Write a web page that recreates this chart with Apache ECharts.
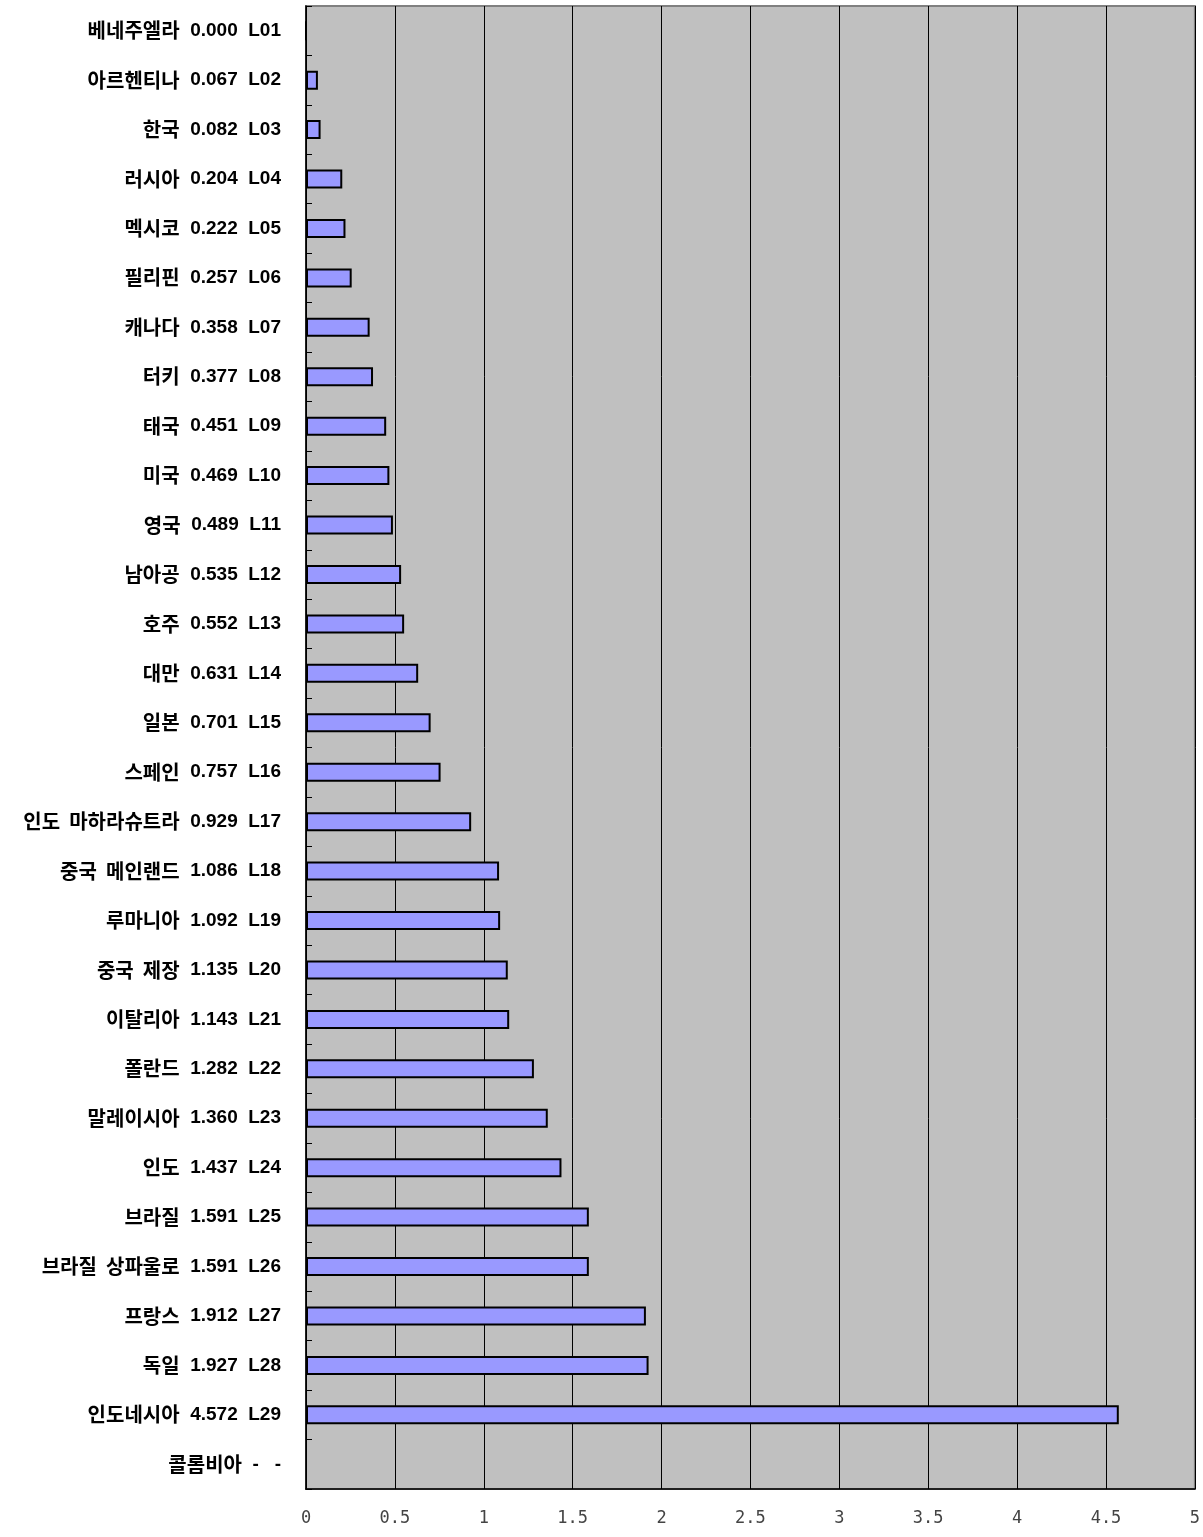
<!DOCTYPE html>
<html>
<head>
<meta charset="utf-8">
<script src="https://cdn.jsdelivr.net/npm/echarts@6/dist/echarts.min.js"></script>
<style>html,body{margin:0;padding:0;background:#fff}#c{width:1203px;height:1537px}</style>
</head>
<body>
<div id="c"></div>
<script>
const names = ['베네주엘라','아르헨티나','한국','러시아','멕시코','필리핀','캐나다','터키','태국','미국','영국','남아공','호주','대만','일본','스페인','인도 마하라슈트라','중국 메인랜드','루마니아','중국 제장','이탈리아','폴란드','말레이시아','인도','브라질','브라질 상파울로','프랑스','독일','인도네시아','콜롬비아'];
const values = [0.000,0.067,0.082,0.204,0.222,0.257,0.358,0.377,0.451,0.469,0.489,0.535,0.552,0.631,0.701,0.757,0.929,1.086,1.092,1.135,1.143,1.282,1.360,1.437,1.591,1.591,1.912,1.927,4.572,null];
const codes = ['L01','L02','L03','L04','L05','L06','L07','L08','L09','L10','L11','L12','L13','L14','L15','L16','L17','L18','L19','L20','L21','L22','L23','L24','L25','L26','L27','L28','L29',''];
const xTicks = [0,0.5,1,1.5,2,2.5,3,3.5,4,4.5,5];

const labels = names.map((n,i)=> values[i]==null ? n+' - -' : n+' '+values[i].toFixed(3)+' '+codes[i]);

const chart = echarts.init(document.getElementById('c'));
chart.setOption({
  animation:false,
  backgroundColor:'#ffffff',
  grid:{left:306,right:6,top:6,bottom:48,show:true,backgroundColor:'#c0c0c0',borderColor:'#808080',borderWidth:2},
  xAxis:{type:'value',min:xTicks[0],max:xTicks[xTicks.length-1],interval:0.5,
    axisLine:{show:true,lineStyle:{color:'#000',width:1.5}},
    axisTick:{show:false},
    splitLine:{show:true,lineStyle:{color:'#000',width:1}},
    axisLabel:{margin:21,color:'#444',fontSize:17,fontFamily:'DejaVu Sans Mono',formatter:v=>String(v)}
  },
  yAxis:{type:'category',inverse:true,data:labels,
    axisLine:{show:true,lineStyle:{color:'#000',width:1.5}},
    axisTick:{show:true,inside:true,length:6,lineStyle:{color:'#000'}},
    axisLabel:{margin:25,interval:0,
      formatter:(v,i)=>{
        const n = names[i].split(' ').join('  ');
        const rest = values[i]==null ? '  -   -' : '  '+values[i].toFixed(3)+'  '+codes[i];
        return '{h|'+n+'}{n|'+rest+'}';
      },
      rich:{
        h:{fontSize:20,fontWeight:'bold',color:'#000',fontFamily:'Noto Sans CJK KR'},
        n:{fontSize:19,fontWeight:'bold',color:'#000',fontFamily:'Liberation Sans'}
      }
    }
  },
  series:[{type:'bar',data:values,barWidth:19,itemStyle:{color:'#9999ff',borderColor:'#000',borderWidth:2}}]
});
</script>
</body>
</html>
